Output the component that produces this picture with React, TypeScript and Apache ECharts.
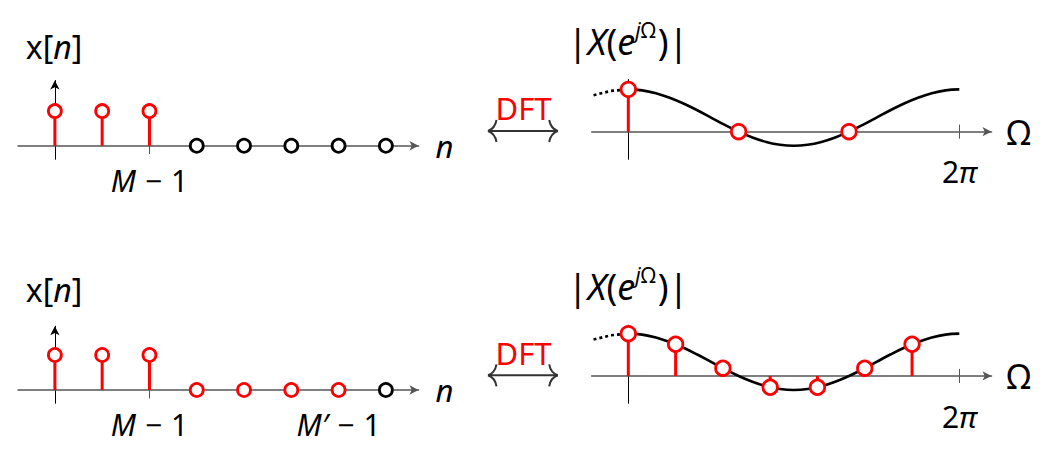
import React, { useEffect, useRef } from "react";
import * as echarts from "echarts";

// ---------- data ----------
const M = 3;
const Mprime = 7;
const sampleIndex = [0, 1, 2, 3, 4, 5, 6, 7];
const xTopValues = [1, 1, 1, 0, 0, 0, 0, 0];
const xBottomValues = [1, 1, 1, 0, 0, 0, 0, 0];

const leftTopTickValues = [2];
const leftTopTickLabels = ["{i|M}{m|−}1"];
const leftBottomTickValues = [2, 6];
const leftBottomTickLabels = ["{i|M}{m|−}1", "{i|M′}{m|−}1"];
const rightTickValues = [6.2832];
const rightTickLabels = ["2{i|π}"];

// |X(e^jΩ)| (Ω in rad)
const omegaCurve = [
  0, 0.262, 0.524, 0.785, 1.047, 1.309, 1.571, 1.833, 2.094, 2.356, 2.618, 2.88, 3.142,
  3.403, 3.665, 3.927, 4.189, 4.451, 4.712, 4.974, 5.236, 5.498, 5.76, 6.021, 6.283,
];
const magCurve = [
  3.0, 2.93, 2.73, 2.41, 2.0, 1.52, 1.0, 0.48, 0.0, -0.41, -0.73, -0.93, -1.0,
  -0.93, -0.73, -0.41, 0.0, 0.48, 1.0, 1.52, 2.0, 2.41, 2.73, 2.93, 3.0,
];
const omegaDotted = [-0.66, -0.33, 0];
const magDotted = [2.58, 2.89, 3.0];

const omegaTopSamples = [0, 2.094, 4.189];
const magTopSamples = [3.0, 0.0, 0.0];
const omegaBottomSamples = [0, 0.898, 1.795, 2.693, 3.59, 4.488, 5.386];
const magBottomSamples = [3.0, 2.25, 0.55, -0.8, -0.8, 0.55, 2.25];

// ---------- style ----------
const RED = "#ff0000";
const BLACK = "#000000";
const AXIS_GRAY = "#555555";
const FONT = "Noto Sans";
const ARROW = "arrow";

function stemSeries(ai: number, xs: number[], ys: number[], color: string) {
  const data: number[][] = [];
  xs.forEach((x, i) => {
    if (ys[i] !== 0) data.push([x, ys[i]]);
  });
  return {
    type: "custom",
    xAxisIndex: ai,
    yAxisIndex: ai,
    silent: true,
    z: 3,
    data,
    renderItem: (_p: any, api: any) => {
      const p0 = api.coord([api.value(0), 0]);
      const p1 = api.coord([api.value(0), api.value(1)]);
      return {
        type: "line",
        shape: { x1: p0[0], y1: p0[1], x2: p1[0], y2: p1[1] },
        style: { stroke: color, lineWidth: 3 },
      };
    },
  };
}

function circleSeries(
  ai: number,
  xs: number[],
  ys: number[],
  colorOf: (i: number) => string,
  size: number,
  tickAt: number | null,
  tickLen: number
) {
  const s: any = {
    type: "scatter",
    xAxisIndex: ai,
    yAxisIndex: ai,
    silent: true,
    z: 6,
    symbol: "circle",
    symbolSize: size,
    itemStyle: { opacity: 1 },
    data: xs.map((x, i) => ({
      value: [x, ys[i]],
      itemStyle: { color: "#ffffff", borderColor: colorOf(i), borderWidth: 2.8, opacity: 1 },
    })),
  };
  if (tickAt !== null) {
    s.markLine = {
      silent: true,
      symbol: ["none", "none"],
      label: { show: false },
      z: 1,
      lineStyle: { color: AXIS_GRAY, width: 1, type: "solid", opacity: 1 },
      data: [[{ coord: [tickAt, 0] }, { coord: [tickAt, -tickLen] }]],
    };
  }
  return s;
}

const tickRich = {
  i: { fontStyle: "italic", fontSize: 30, color: BLACK, fontFamily: FONT },
  m: { fontSize: 30, color: BLACK, fontFamily: FONT, padding: [0, 9, 0, 9] },
};

function xAxisLeft(gi: number, min: number, max: number, tickVals: number[], tickLabels: string[], margin: number) {
  return {
    type: "value",
    gridIndex: gi,
    min,
    max,
    name: "n",
    nameLocation: "end",
    nameGap: 17,
    nameTextStyle: { fontSize: 31, fontStyle: "italic", color: BLACK, fontFamily: FONT },
    axisLine: {
      show: true,
      onZero: true,
      symbol: ["none", ARROW],
      symbolSize: [7, 9],
      lineStyle: { color: AXIS_GRAY, width: 1.5 },
    },
    axisTick: { show: false },
    axisLabel: {
      show: true,
      customValues: tickVals,
      margin,
      fontSize: 30,
      color: BLACK,
      fontFamily: FONT,
      formatter: (v: number) => tickLabels[tickVals.indexOf(v)] ?? "",
      rich: tickRich,
    },
    splitLine: { show: false },
  };
}

function xAxisRight(gi: number, min: number, max: number, margin: number) {
  return {
    type: "value",
    gridIndex: gi,
    min,
    max,
    name: "Ω",
    nameLocation: "end",
    nameGap: 15,
    nameTextStyle: { fontSize: 34, color: BLACK, fontFamily: FONT },
    axisLine: {
      show: true,
      onZero: true,
      symbol: ["none", ARROW],
      symbolSize: [7, 9],
      lineStyle: { color: AXIS_GRAY, width: 1.5 },
    },
    axisTick: { show: false },
    axisLabel: {
      show: true,
      customValues: rightTickValues,
      margin,
      fontSize: 30,
      color: BLACK,
      fontFamily: FONT,
      formatter: (v: number) => rightTickLabels[rightTickValues.indexOf(v)] ?? "",
      rich: tickRich,
    },
    splitLine: { show: false },
  };
}

function yAxis(gi: number, min: number, max: number) {
  return {
    type: "value",
    gridIndex: gi,
    min,
    max,
    axisLine: {
      show: true,
      onZero: true,
      symbol: ["none", ARROW],
      symbolSize: [7, 9],
      lineStyle: { color: BLACK, width: 1 },
    },
    axisTick: { show: false },
    axisLabel: { show: false },
    splitLine: { show: false },
  };
}

function dftArrow(cy: number) {
  const l = 488;
  const r = 557.7;
  const st = { stroke: "#333333", lineWidth: 2, fill: null };
  return [
    { type: "line", silent: true, shape: { x1: l, y1: cy, x2: r, y2: cy }, style: st },
    { type: "bezierCurve", silent: true, shape: { x1: l + 8.5, y1: cy - 11, cpx1: l + 7, cpy1: cy - 2.5, x2: l, y2: cy }, style: st },
    { type: "bezierCurve", silent: true, shape: { x1: l + 8.5, y1: cy + 11, cpx1: l + 7, cpy1: cy + 2.5, x2: l, y2: cy }, style: st },
    { type: "bezierCurve", silent: true, shape: { x1: r - 8.5, y1: cy - 11, cpx1: r - 7, cpy1: cy - 2.5, x2: r, y2: cy }, style: st },
    { type: "bezierCurve", silent: true, shape: { x1: r - 8.5, y1: cy + 11, cpx1: r - 7, cpy1: cy + 2.5, x2: r, y2: cy }, style: st },
  ];
}

function label(text: string, x: number, y: number, size: number, color: string, rich: any = {}) {
  return {
    type: "text",
    x,
    y,
    silent: true,
    style: {
      text,
      x: 0,
      y: 0,
      fill: color,
      fontSize: size,
      fontFamily: FONT,
      align: "center",
      verticalAlign: "middle",
      rich,
    },
  };
}

const xnRich = { i: { fontStyle: "italic", fontSize: 32, fontFamily: FONT, fill: BLACK, lineHeight: 40 } };
const XRich = {
  i: { fontStyle: "italic", fontSize: 36, fontFamily: FONT, fill: BLACK, lineHeight: 44 },
  u: { fontSize: 36, fontFamily: FONT, fill: BLACK, lineHeight: 44 },
  si: { fontStyle: "italic", fontSize: 21, fontFamily: FONT, fill: BLACK, lineHeight: 26, verticalAlign: "top" },
  su: { fontSize: 21, fontFamily: FONT, fill: BLACK, lineHeight: 26, verticalAlign: "top", padding: [0, 2, 0, 0] },
};

export default function App() {
  const ref = useRef<HTMLDivElement>(null);
  useEffect(() => {
    if (!ref.current) return;
    const chart = echarts.init(ref.current, null, { renderer: "svg" });
    const curveData = omegaCurve.map((o, i) => [o, magCurve[i]]);
    const dottedData = omegaDotted.map((o, i) => [o, magDotted[i]]);
    const curveSeries = (ai: number) => [
      {
        type: "line",
        xAxisIndex: ai,
        yAxisIndex: ai,
        silent: true,
        z: 4,
        showSymbol: false,
        smooth: 0.4,
        data: curveData,
        lineStyle: { color: BLACK, width: 2.6 },
        markLine: {
          silent: true,
          symbol: ["none", "none"],
          label: { show: false },
          lineStyle: { color: AXIS_GRAY, width: 1, type: "solid" },
          data: [[{ coord: [rightTickValues[0], -0.5] }, { coord: [rightTickValues[0], 0.5] }]],
        },
      },
      {
        type: "line",
        xAxisIndex: ai,
        yAxisIndex: ai,
        silent: true,
        z: 4,
        showSymbol: false,
        data: dottedData,
        lineStyle: { color: BLACK, width: 2.6, type: [3, 3] },
      },
    ];

    const option: any = {
      animation: false,
      backgroundColor: "#ffffff",
      textStyle: { fontFamily: FONT },
      grid: [
        { left: 18, top: 80.5, width: 400.5, height: 78.8 },
        { left: 591.7, top: 79.5, width: 399.8, height: 79.8 },
        { left: 18, top: 326.2, width: 400.5, height: 77.1 },
        { left: 591.7, top: 325.2, width: 399.8, height: 78.1 },
      ],
      xAxis: [
        xAxisLeft(0, -0.78, 7.69, leftTopTickValues, leftTopTickLabels, 6),
        xAxisRight(1, -0.695, 6.894, -2.5),
        xAxisLeft(2, -0.78, 7.69, leftBottomTickValues, leftBottomTickLabels, 6),
        xAxisRight(3, -0.695, 6.894, -2.3),
      ],
      yAxis: [yAxis(0, -0.39, 1.88), yAxis(1, -1.96, 3.7), yAxis(2, -0.38, 1.823), yAxis(3, -1.94, 3.6)],
      series: [
        stemSeries(0, sampleIndex.filter((n) => n < M), xTopValues, RED),
        circleSeries(0, sampleIndex, xTopValues, (i) => (sampleIndex[i] < M ? RED : BLACK), 13, M - 1, 0.24),
        ...curveSeries(1),
        stemSeries(1, omegaTopSamples, magTopSamples, RED),
        circleSeries(1, omegaTopSamples, magTopSamples, () => RED, 14.5, null, 0),
        stemSeries(2, sampleIndex.filter((n) => n < M), xBottomValues, RED),
        circleSeries(2, sampleIndex, xBottomValues, (i) => (sampleIndex[i] < Mprime ? RED : BLACK), 13, M - 1, 0.24),
        ...curveSeries(3),
        stemSeries(3, omegaBottomSamples, magBottomSamples, RED),
        circleSeries(3, omegaBottomSamples, magBottomSamples, () => RED, 14.5, null, 0),
      ],
      graphic: [
        label("x[{i|n}]", 54, 46.7, 32, BLACK, xnRich),
        label("x[{i|n}]", 54, 289, 32, BLACK, xnRich),
        label("{u||}{i|X}{u|(}{i|e}{si|j}{su|Ω}{u|)|}", 628, 41.5, 36, BLACK, XRich),
        label("{u||}{i|X}{u|(}{i|e}{si|j}{su|Ω}{u|)|}", 628, 286, 36, BLACK, XRich),
        label("DFT", 523.5, 108, 31, RED),
        label("DFT", 523.5, 352.7, 31, RED),
        ...dftArrow(131),
        ...dftArrow(375.3),
      ],
    };
    chart.setOption(option);
    return () => chart.dispose();
  }, []);
  return <div ref={ref} style={{ position: "fixed", left: 0, top: 0, width: 1063, height: 454 }} />;
}
